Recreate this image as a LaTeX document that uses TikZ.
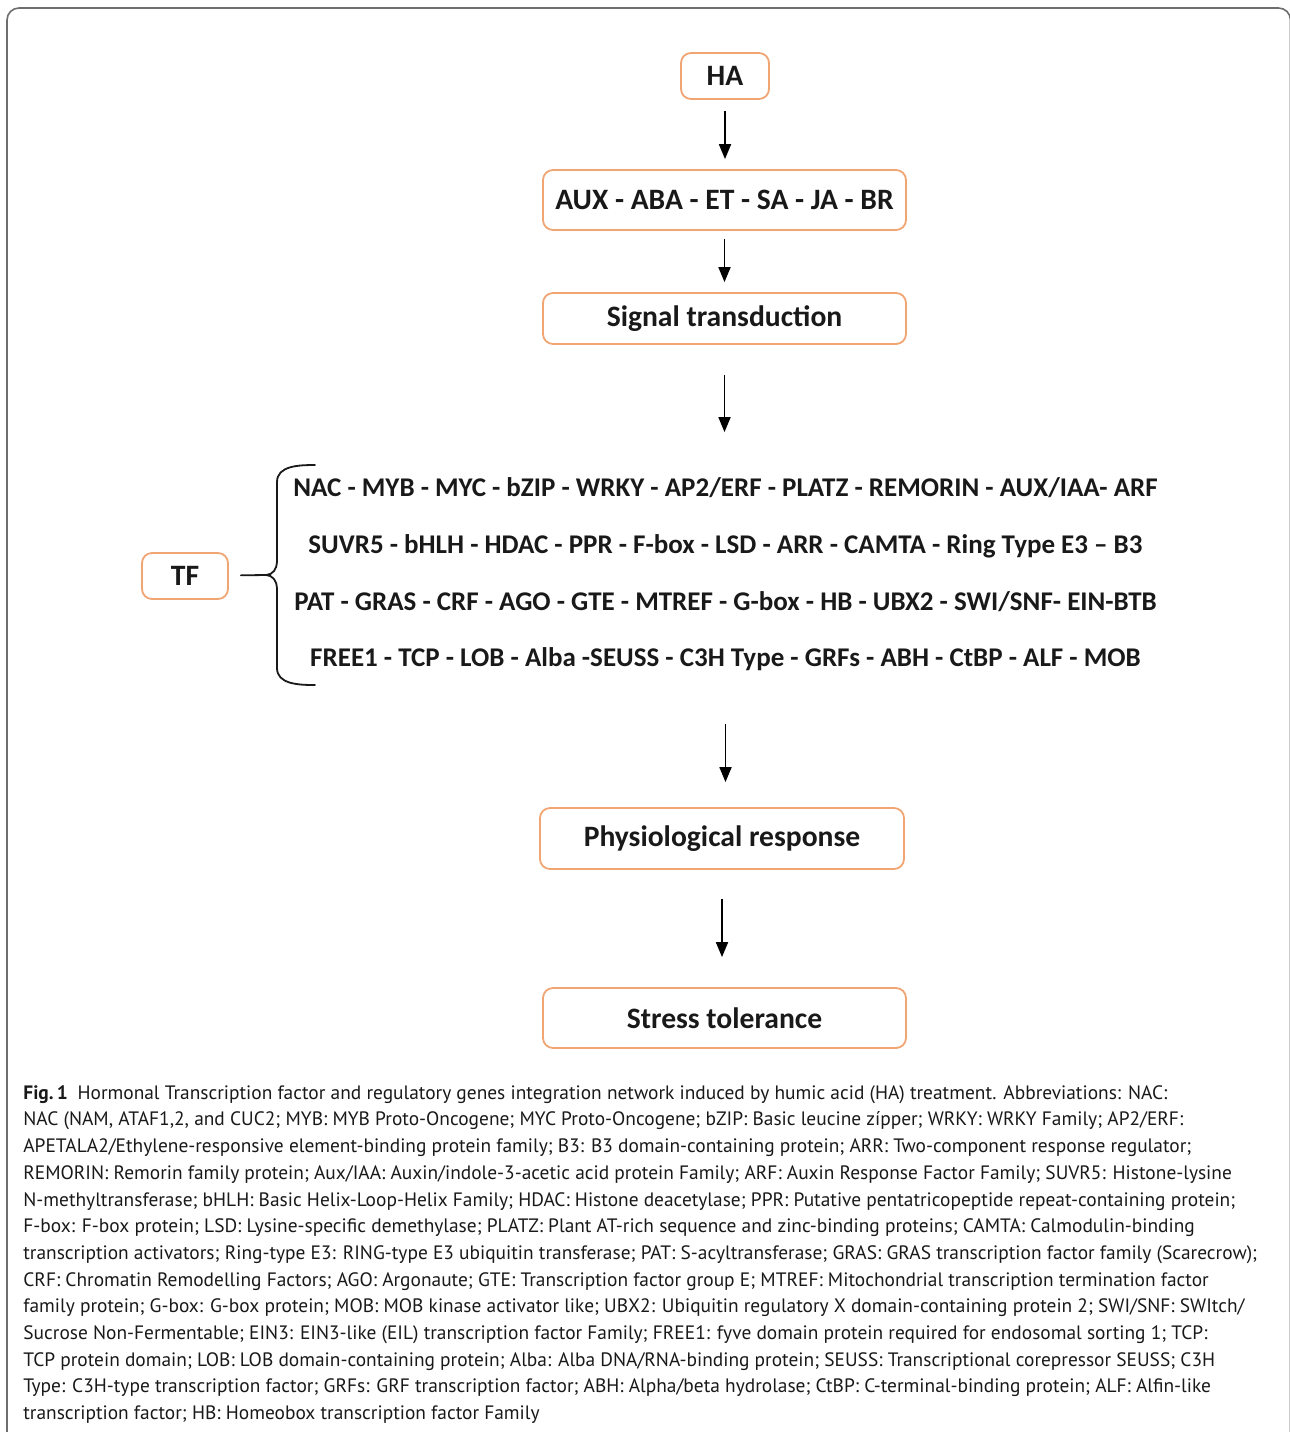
\documentclass[tikz,border=0pt]{standalone}
\usepackage{fontspec}
\setmainfont{Carlito}
\newfontfamily\capfont{PT Sans}
\usepackage{tikz}
\usetikzlibrary{arrows.meta}
\usepackage{xcolor}
\definecolor{ColWhite}{RGB}{255,255,255}
\definecolor{ColBox}{RGB}{240,165,115}
\definecolor{ColFrame}{RGB}{110,110,110}
\definecolor{ColText}{RGB}{25,25,25}
\tikzstyle{BoxNode}=[rectangle,rounded corners=5pt,draw=ColBox,line width=0.9pt,fill=ColWhite,
inner sep=0pt,text=ColText,font=\fontsize{14.8}{17}\selectfont\bfseries]
\tikzstyle{ArrowFlow}=[-{Triangle[length=7.5pt,width=6pt]},line width=0.9pt,black]
\tikzstyle{BraceLine}=[line width=0.9pt,ColText,line cap=round]

\begin{document}
\begin{tikzpicture}[x=0.5pt,y=-0.5pt]
        \useasboundingbox (0,0) rectangle (1290,1432);
        \draw[ColFrame,line width=0.8pt,rounded corners=6pt](7,8)rectangle(1290.5,1460);
        \node[BoxNode,minimum width=44pt,minimum height=23pt](HA)at(725,76){HA};
        \node[BoxNode,minimum width=181.5pt,minimum height=30pt](horm)at(724.5,200){AUX - ABA - ET - SA - JA - BR};
        \node[BoxNode,minimum width=181.5pt,minimum height=25.5pt](signal)at(724.5,318.5){Signal transduction};
        \node[BoxNode,minimum width=43pt,minimum height=23pt](TF)at(185,576){TF};
        \node[inner sep=0pt,minimum height=111pt,align=center,text=ColText,
            font=\fontsize{13.5}{28.3}\selectfont\bfseries](tflist)at(725.5,574.5){%
            NAC - MYB - MYC - bZIP - WRKY - AP2/ERF - PLATZ - REMORIN - AUX/IAA- ARF\\
            SUVR5 - bHLH - HDAC - PPR - F-box - LSD - ARR - CAMTA - Ring Type E3 -- B3\\
            PAT - GRAS - CRF - AGO - GTE - MTREF - G-box - HB - UBX2 - SWI/SNF- EIN-BTB\\
            FREE1 - TCP - LOB - Alba -SEUSS - C3H Type - GRFs - ABH - CtBP - ALF - MOB};
        \node[BoxNode,minimum width=182pt,minimum height=30.5pt](phys)at(722,838.5){Physiological response};
        \node[BoxNode,minimum width=181.5pt,minimum height=30pt](stress)at(724.5,1018){Stress tolerance};
        % brace around the TF families
        \coordinate(bracetip)at(266,575);
        \draw[BraceLine](315,465)to[out=180,in=90](277,482)--(277,562)
            to[out=-90,in=0](bracetip)to[out=0,in=90](277,588)--(277,668)
            to[out=-90,in=180](315,685);
        \draw[BraceLine,shorten <=6pt](TF)--(bracetip);
        % flow
        \draw[ArrowFlow,shorten <=5.5pt,shorten >=5pt](HA)--(HA|-horm.north);
        \draw[ArrowFlow,shorten <=4pt,shorten >=5pt](horm)--(horm|-signal.north);
        \draw[ArrowFlow,shorten <=15pt,shorten >=15.5pt](signal)--(signal|-tflist.north);
        \draw[ArrowFlow,shorten <=19pt,shorten >=12.5pt](tflist)--(tflist|-phys.north);
        \draw[ArrowFlow,shorten <=14.5pt,shorten >=15pt](phys)--(phys|-stress.north);
        \node[anchor=north west,inner sep=0pt,align=left,text=ColText,
            font=\capfont\fontsize{9.7}{13.35}\selectfont](caption)at(23,1085){%
            \textbf{Fig.\,1}\enspace Hormonal Transcription factor and regulatory genes integration network induced by humic acid (HA) treatment. Abbreviations: NAC:\\
            NAC (NAM, ATAF1,2, and CUC2; MYB: MYB Proto-Oncogene; MYC Proto-Oncogene; bZIP: Basic leucine zípper; WRKY: WRKY Family; AP2/ERF:\\
            APETALA2/Ethylene-responsive element-binding protein family; B3: B3 domain-containing protein; ARR: Two-component response regulator;\\
            REMORIN: Remorin family protein; Aux/IAA: Auxin/indole-3-acetic acid protein Family; ARF: Auxin Response Factor Family; SUVR5: Histone-lysine\\
            N-methyltransferase; bHLH: Basic Helix-Loop-Helix Family; HDAC: Histone deacetylase; PPR: Putative pentatricopeptide repeat-containing protein;\\
            F-box: F-box protein; LSD: Lysine-specific demethylase; PLATZ: Plant AT-rich sequence and zinc-binding proteins; CAMTA: Calmodulin-binding\\
            transcription activators; Ring-type E3: RING-type E3 ubiquitin transferase; PAT: S-acyltransferase; GRAS: GRAS transcription factor family (Scarecrow);\\
            CRF: Chromatin Remodelling Factors; AGO: Argonaute; GTE: Transcription factor group E; MTREF: Mitochondrial transcription termination factor\\
            family protein; G-box: G-box protein; MOB: MOB kinase activator like; UBX2: Ubiquitin regulatory X domain-containing protein 2; SWI/SNF: SWItch/\\
            Sucrose Non-Fermentable; EIN3: EIN3-like (EIL) transcription factor Family; FREE1: fyve domain protein required for endosomal sorting 1; TCP:\\
            TCP protein domain; LOB: LOB domain-containing protein; Alba: Alba DNA/RNA-binding protein; SEUSS: Transcriptional corepressor SEUSS; C3H\\
            Type: C3H-type transcription factor; GRFs: GRF transcription factor; ABH: Alpha/beta hydrolase; CtBP: C-terminal-binding protein; ALF: Alfin-like\\
            transcription factor; HB: Homeobox transcription factor Family};
    \end{tikzpicture}
\end{document}
